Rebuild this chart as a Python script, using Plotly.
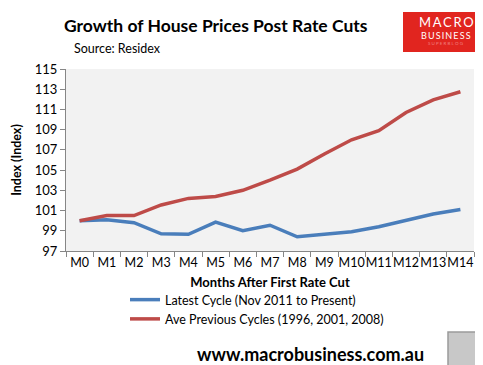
import plotly.graph_objects as go

months = ["M0", "M1", "M2", "M3", "M4", "M5", "M6", "M7", "M8", "M9", "M10", "M11", "M12", "M13", "M14"]
latest = [100.0, 100.1, 99.8, 98.7, 98.65, 99.85, 99.0, 99.55, 98.4, 98.65, 98.9, 99.4, 100.0, 100.65, 101.1]
previous = [100.0, 100.5, 100.5, 101.55, 102.2, 102.4, 103.0, 104.0, 105.1, 106.6, 108.0, 108.9, 110.7, 111.95, 112.75]
y_ticks = [97, 99, 101, 103, 105, 107, 109, 111, 113, 115]

W, H = 483, 365
L, R, T, B = 58, 466, 61, 243

def px(x):
    return (x - L) / (R - L)

def py(y):
    return (B - y) / (B - T)

FONT = "Lato"

fig = go.Figure()
fig.add_trace(go.Scatter(x=months, y=latest, mode="lines", name="Latest Cycle (Nov 2011 to Present)",
                         line=dict(color="#4a7ebb", width=3.5)))
fig.add_trace(go.Scatter(x=months, y=previous, mode="lines", name="Ave Previous Cycles (1996, 2001, 2008)",
                         line=dict(color="#be4b48", width=3.5)))

fig.update_layout(
    width=W, height=H,
    margin=dict(l=L, r=W - R, t=T, b=H - B),
    paper_bgcolor="white",
    plot_bgcolor="#f2f2f2",
    font=dict(family=FONT, size=12, color="black"),
    showlegend=True,
    legend=dict(x=px(117), y=py(277), xanchor="left", yanchor="top", orientation="v",
                font=dict(family=FONT, size=12.5), tracegroupgap=0, itemwidth=30,
                bgcolor="rgba(0,0,0,0)"),
)
fig.update_xaxes(range=[-0.5, 14.5], tickson="boundaries", ticks="outside", ticklen=5,
                 tickcolor="#868686", showline=True, linecolor="#868686", showgrid=False,
                 tickfont=dict(size=12.5), tickangle=0, zeroline=False, automargin=False,
                 title=dict(text="<b>Months After First Rate Cut</b>", font=dict(size=13), standoff=8))
fig.update_yaxes(range=[97, 115], tickvals=y_ticks, ticks="outside", ticklen=5,
                 tickcolor="#868686", showline=True, linecolor="#868686", showgrid=False,
                 tickfont=dict(size=13), zeroline=False, automargin=False,
                 title=dict(text="<b>Index (Index)</b>", font=dict(size=12.5), standoff=10))

TS = "\u2009"
anns = [
    dict(text="<b>Growth of House Prices Post Rate Cuts</b>", x=px(208), y=py(18), size=17.5, color="black"),
    dict(text="Source: Residex", x=px(109), y=py(41), size=12.5, color="black"),
    dict(text="<b>www.macrobusiness.com.au</b>", x=px(302), y=py(346), size=18, color="black"),
    dict(text=TS.join("MACRO"), x=px(438), y=py(14), size=13, color="white"),
    dict(text=TS.join("BUSINESS"), x=px(438), y=py(27), size=9, color="white"),
    dict(text=" ".join("SUPERBLOG"), x=px(438), y=py(35.5), size=4.5, color="#f08080"),
]
for a in anns:
    fig.add_annotation(text=a["text"], x=a["x"], y=a["y"], xref="paper", yref="paper",
                       showarrow=False, xanchor="center", yanchor="middle",
                       font=dict(family=FONT, size=a["size"], color=a["color"]))

# logo box
fig.add_shape(type="rect", xref="paper", yref="paper", x0=px(395), x1=px(480), y0=py(44), y1=py(4),
              fillcolor="#e1251f", line=dict(width=0), layer="below")
# wolf image placeholder box
fig.add_shape(type="rect", xref="paper", yref="paper", x0=px(440), x1=px(478), y0=py(359), y1=py(324),
              fillcolor="#c8c8c8", line=dict(color="#9a9a9a", width=1.5), layer="below")

fig.write_html("out.html")
